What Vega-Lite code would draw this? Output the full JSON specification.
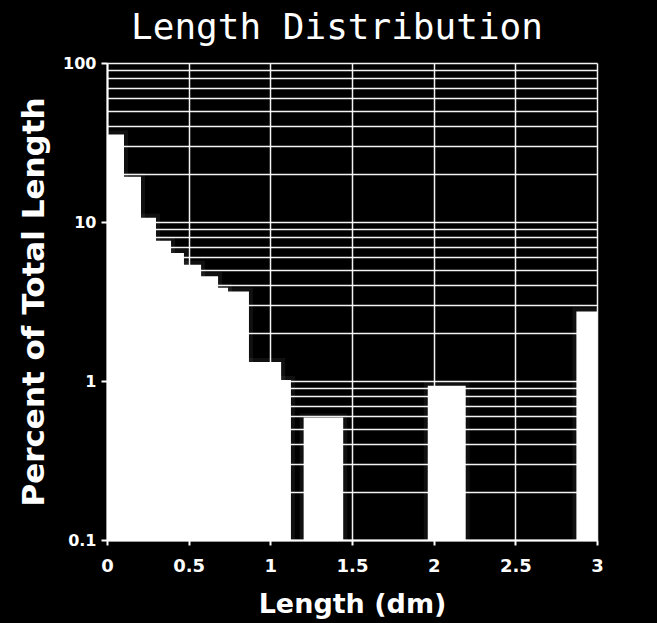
{
  "$schema": "https://vega.github.io/schema/vega-lite/v6.json",
  "autosize": "none",
  "width": 490,
  "height": 477,
  "padding": {"left": 107, "top": 63, "right": 60, "bottom": 83},
  "background": "black",
  "title": {
    "text": "Length Distribution",
    "font": "DejaVu Sans Mono",
    "fontSize": 36,
    "fontWeight": "normal",
    "color": "white",
    "anchor": "middle",
    "dx": -15,
    "offset": 8
  },
  "data": {
    "values": [
      {"from": 0, "to": 0.098, "percent": 35},
      {"from": 0.098, "to": 0.202, "percent": 19},
      {"from": 0.202, "to": 0.294, "percent": 10.5},
      {"from": 0.294, "to": 0.386, "percent": 7.5},
      {"from": 0.386, "to": 0.465, "percent": 6.3},
      {"from": 0.465, "to": 0.57, "percent": 5.3},
      {"from": 0.57, "to": 0.674, "percent": 4.5},
      {"from": 0.674, "to": 0.735, "percent": 3.8},
      {"from": 0.735, "to": 0.863, "percent": 3.6},
      {"from": 0.863, "to": 1.06, "percent": 1.3},
      {"from": 1.06, "to": 1.12, "percent": 1.0},
      {"from": 1.21, "to": 1.44, "percent": 0.58},
      {"from": 1.97, "to": 2.19, "percent": 0.92},
      {"from": 2.88, "to": 3.0, "percent": 2.7}
    ]
  },
  "encoding": {
    "x": {
      "field": "from",
      "type": "quantitative",
      "scale": {"domain": [0, 3], "nice": false, "zero": false},
      "axis": {
        "title": "Length (dm)",
        "values": [0, 0.5, 1, 1.5, 2, 2.5, 3],
        "format": "~g",
        "grid": true,
        "gridColor": "white",
        "gridWidth": 1.5,
        "gridOpacity": 0.95,
        "domainColor": "white",
        "domainWidth": 2,
        "tickColor": "white",
        "tickWidth": 2,
        "tickSize": 5,
        "labelColor": "white",
        "labelFont": "DejaVu Sans",
        "labelFontWeight": "bold",
        "labelFontSize": 18,
        "labelPadding": 12,
        "labelFlush": false,
        "titleColor": "white",
        "titleFont": "DejaVu Sans",
        "titleFontWeight": "bold",
        "titleFontSize": 27,
        "titlePadding": 16
      }
    },
    "x2": {"field": "to"},
    "y": {
      "field": "percent",
      "type": "quantitative",
      "scale": {"type": "log", "domain": [0.1, 100], "nice": false},
      "axis": {
        "title": "Percent of Total Length",
        "values": [0.1, 0.2, 0.3, 0.4, 0.5, 0.6, 0.7, 0.8, 0.9, 1, 2, 3, 4, 5, 6, 7, 8, 9, 10, 20, 30, 40, 50, 60, 70, 80, 90, 100],
        "labelExpr": "indexof([0.1, 1, 10, 100], datum.value) >= 0 ? format(datum.value, '~g') : ''",
        "grid": true,
        "gridColor": "white",
        "gridWidth": 1.5,
        "gridOpacity": 0.95,
        "domainColor": "white",
        "domainWidth": 2,
        "tickColor": "white",
        "tickWidth": 2,
        "tickSize": 6,
        "tickOpacity": {"condition": {"test": "indexof([0.1, 1, 10, 100], datum.value) >= 0", "value": 1}, "value": 0},
        "labelColor": "white",
        "labelFont": "DejaVu Sans",
        "labelFontWeight": "bold",
        "labelFontSize": 16,
        "labelPadding": 5,
        "labelFlush": false,
        "titleColor": "white",
        "titleFont": "DejaVu Sans",
        "titleFontWeight": "bold",
        "titleFontSize": 31,
        "titlePadding": 12
      }
    },
    "y2": {"datum": 0.1}
  },
  "layer": [
    {
      "mark": {"type": "bar", "color": "white", "opacity": 0.25, "stroke": "white", "strokeWidth": 10, "strokeOpacity": 0.25, "clip": true}
    },
    {
      "mark": {"type": "bar", "color": "white", "stroke": "white", "strokeWidth": 2, "clip": true}
    }
  ],
  "config": {"view": {"stroke": null}}
}
